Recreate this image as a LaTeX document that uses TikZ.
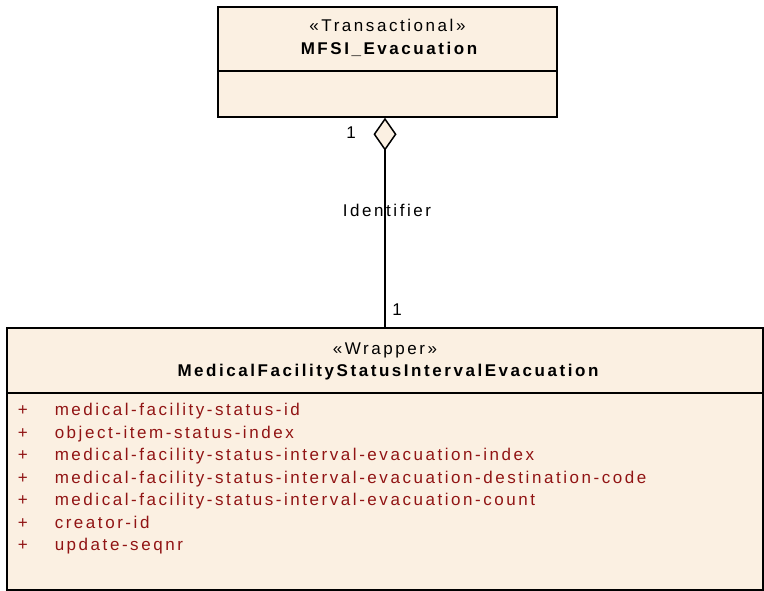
\documentclass[tikz,border=0pt]{standalone}
\usepackage{fontspec}
\setmainfont[LetterSpace=15]{Liberation Sans}
\usetikzlibrary{arrows.meta}
\definecolor{classfill}{RGB}{251,240,226}
\definecolor{attrred}{RGB}{145,20,20}

\begin{document}
\begin{tikzpicture}[x=1pt, y=-1pt, line width=1.5pt,
  classbox/.style={draw, fill=classfill, inner sep=0pt},
  txt/.style={font=\fontsize{17}{20}\selectfont, inner sep=0pt},
  attr/.style={txt, text=attrred, anchor=base west}]
  \useasboundingbox (0,0) rectangle (764,591);
  % transactional class on top, compartment line at y=71
  \node[classbox, minimum width=339pt, minimum height=110pt] (evac) at (387.5,62) {};
  \draw (evac.west |- 0,71) -- (evac.east |- 0,71);
  \node[txt] (evacst) at (387.5,25) {«Transactional»};
  \node[txt, font=\fontsize{17}{20}\selectfont\bfseries] (evacname) at (389,49) {MFSI\_Evacuation};
  % wrapper class below
  \node[classbox, minimum width=756pt, minimum height=262pt] (wrap) at (385,459) {};
  \draw (wrap.west |- 0,393) -- (wrap.east |- 0,393);
  \node[txt] (wrapst) at (385,350) {«Wrapper»};
  \node[txt, font=\fontsize{17}{20}\selectfont\bfseries] (wrapname) at (388,372) {MedicalFacilityStatusIntervalEvacuation};
  \foreach \a [count=\i] in {medical-facility-status-id, object-item-status-index,
    medical-facility-status-interval-evacuation-index,
    medical-facility-status-interval-evacuation-destination-code,
    medical-facility-status-interval-evacuation-count, creator-id, update-seqnr} {
    \node[attr] (plus\i) at (17,393+22.5*\i) {+};
    \node[attr] (attr\i) at (54,393+22.5*\i) {\a};
  }
  % aggregation
  \coordinate (aggend) at (wrap.north |- evac.south);
  \draw[{Diamond[length=33pt, width=23pt, fill=classfill]}-] (aggend) -- (wrap.north);
  \node[txt] (multtop) at (351,133) {1};
  \node[txt] (role) at (387,210) {Identifier};
  \node[txt] (multbot) at (397,310) {1};
\end{tikzpicture}
\end{document}
